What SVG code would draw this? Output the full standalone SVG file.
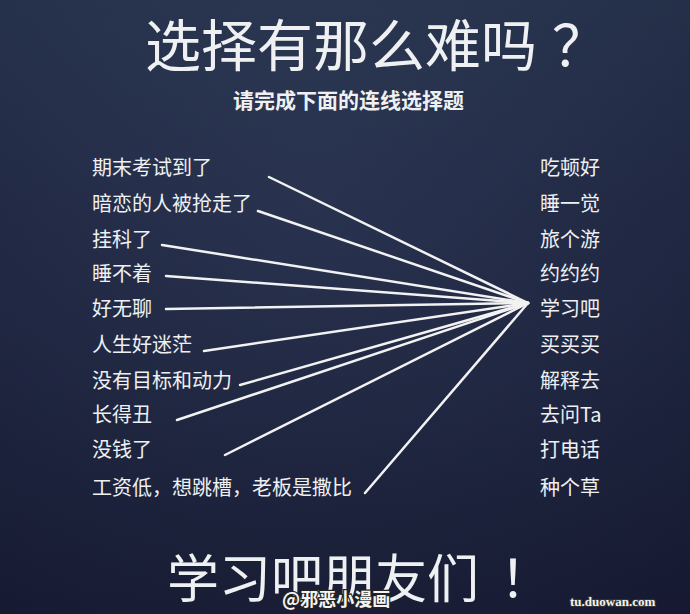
<svg xmlns="http://www.w3.org/2000/svg" width="690" height="614" viewBox="0 0 690 614">
<defs>
<linearGradient id="bg" x1="0" y1="0" x2="0" y2="1">
<stop offset="0" stop-color="#2d3b55"/>
<stop offset="0.35" stop-color="#232b47"/>
<stop offset="1" stop-color="#1a1e36"/>
</linearGradient>
<radialGradient id="vig" cx="0.45" cy="0.35" r="0.8">
<stop offset="0" stop-color="#33405e" stop-opacity="0.35"/>
<stop offset="1" stop-color="#10132a" stop-opacity="0.4"/>
</radialGradient>
<style>
text{font-family:"Noto Sans CJK SC","Noto Sans",sans-serif;fill:#eef0f2}
.lbl{font-size:20px}
.r{font-size:20px}
.title{font-size:56px}
.sub{font-size:21px;font-weight:bold}
.big{font-size:52px}
.wm{font-size:18px;font-weight:bold;fill:#f4f4f4;stroke:#222;stroke-width:2.5px;paint-order:stroke}
.wm2{font-family:"Liberation Serif",serif;font-size:13px;font-weight:bold;fill:#f4f4f4;stroke:#333;stroke-width:2px;paint-order:stroke}
#connectors line{stroke:#f2f2f2;stroke-width:2.5;stroke-linecap:round}
</style>
</defs>
<rect width="690" height="614" fill="url(#bg)"/>
<rect width="690" height="614" fill="url(#vig)"/>
<g id="title"><text class="title" x="145" y="66">选择有那么难吗</text><text class="title" x="552" y="66">？</text></g>
<g id="subtitle"><text class="sub" x="233" y="108">请完成下面的连线选择题</text></g>
<g id="connectors">
<line x1="269" y1="177" x2="528" y2="303"/>
<line x1="258" y1="211" x2="528" y2="303"/>
<line x1="162" y1="245" x2="528" y2="303"/>
<line x1="166" y1="276" x2="528" y2="303"/>
<line x1="166" y1="309" x2="528" y2="303"/>
<line x1="204" y1="351" x2="528" y2="303"/>
<line x1="240" y1="385" x2="528" y2="303"/>
<line x1="177" y1="420" x2="528" y2="303"/>
<line x1="225" y1="455" x2="528" y2="303"/>
<line x1="365" y1="493" x2="528" y2="303"/>
</g>
<g id="left1"><text class="lbl" x="92" y="175">期末考试到了</text></g>
<g id="left2"><text class="lbl" x="92" y="211">暗恋的人被抢走了</text></g>
<g id="left3"><text class="lbl" x="92" y="247">挂科了</text></g>
<g id="left4"><text class="lbl" x="92" y="281">睡不着</text></g>
<g id="left5"><text class="lbl" x="92" y="316">好无聊</text></g>
<g id="left6"><text class="lbl" x="92" y="352">人生好迷茫</text></g>
<g id="left7"><text class="lbl" x="92" y="388">没有目标和动力</text></g>
<g id="left8"><text class="lbl" x="92" y="422">长得丑</text></g>
<g id="left9"><text class="lbl" x="92" y="457">没钱了</text></g>
<g id="left10"><text class="lbl" x="92" y="495">工资低，想跳槽，老板是撒比</text></g>
<g id="right1"><text class="r" x="540" y="175">吃顿好</text></g>
<g id="right2"><text class="r" x="540" y="211">睡一觉</text></g>
<g id="right3"><text class="r" x="540" y="247">旅个游</text></g>
<g id="right4"><text class="r" x="540" y="281">约约约</text></g>
<g id="right5"><text class="r" x="540" y="316">学习吧</text></g>
<g id="right6"><text class="r" x="540" y="352">买买买</text></g>
<g id="right7"><text class="r" x="540" y="388">解释去</text></g>
<g id="right8"><text class="r" x="540" y="422">去问Ta</text></g>
<g id="right9"><text class="r" x="540" y="457">打电话</text></g>
<g id="right10"><text class="r" x="540" y="495">种个草</text></g>
<g id="footer"><text class="big" x="167" y="598">学习吧朋友们</text><text class="big" x="500" y="598">！</text></g>
<g id="watermark"><text class="wm" x="282" y="606">@邪恶小漫画</text>
<text class="wm2" x="570" y="606">tu.duowan.com</text></g>
</svg>
